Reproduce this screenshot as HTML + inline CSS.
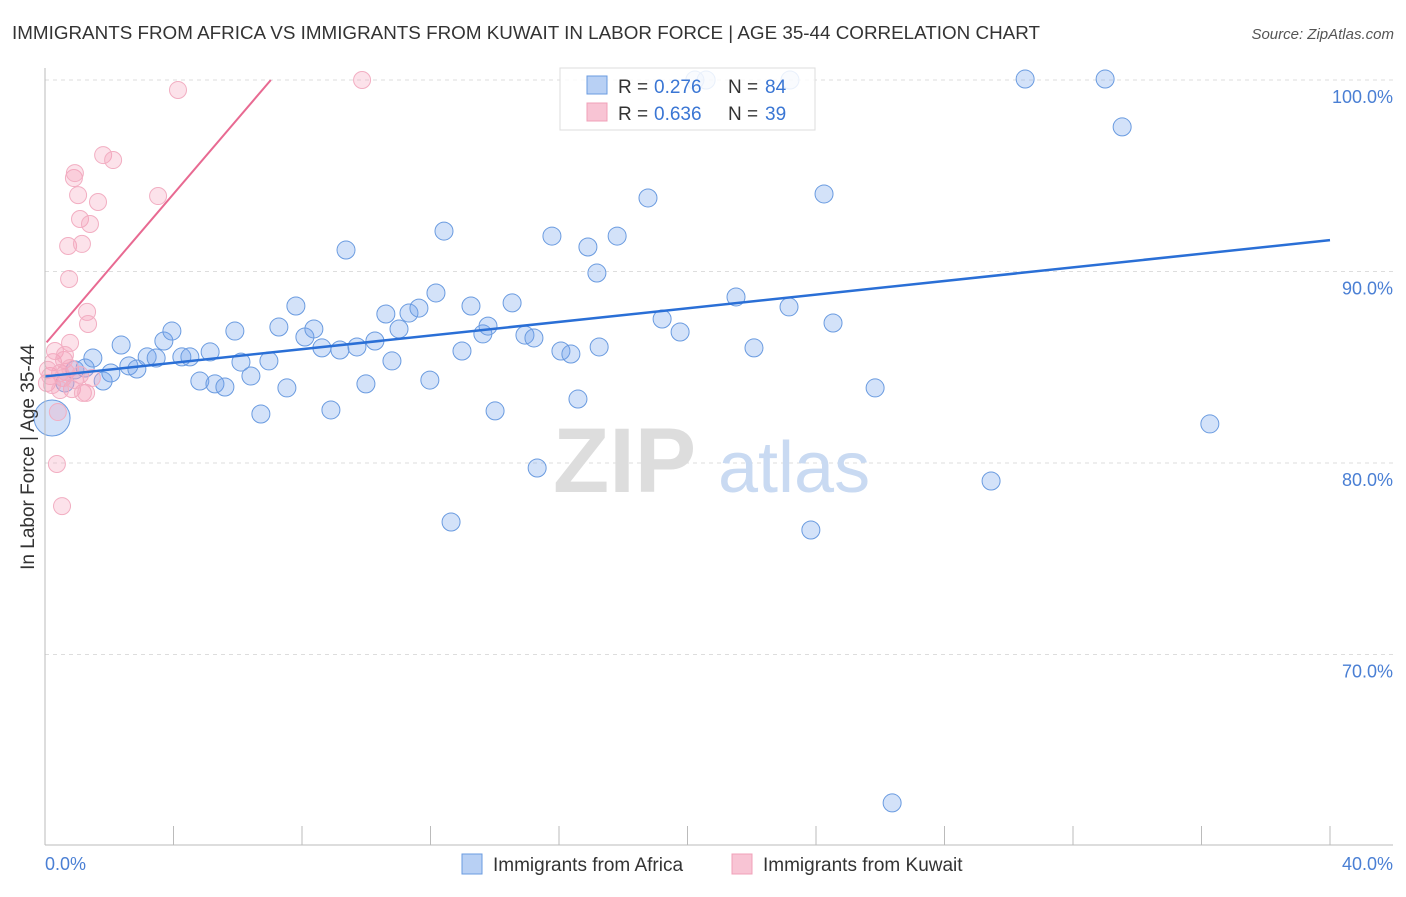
<!DOCTYPE html>
<html><head><meta charset="utf-8"><style>
body{margin:0;background:#fff;font-family:"Liberation Sans",sans-serif;}
svg text{font-family:"Liberation Sans",sans-serif;}
</style></head><body>
<svg id="chart" width="1406" height="892" xmlns="http://www.w3.org/2000/svg">
<text x="12" y="39" font-size="18" fill="#333" textLength="1028" lengthAdjust="spacingAndGlyphs">IMMIGRANTS FROM AFRICA VS IMMIGRANTS FROM KUWAIT IN LABOR FORCE | AGE 35-44 CORRELATION CHART</text>
<text x="1394" y="39" font-size="15" fill="#555" text-anchor="end" font-style="italic">Source: ZipAtlas.com</text>
<g id="grid"></g>
<text x="553" y="492" font-size="92" fill="#ddd" font-family="Liberation Serif" font-weight="bold">ZIP</text>
<text x="718" y="492" font-size="72" fill="#c9daf2">atlas</text>
<g id="pts"></g>
<g id="lines"></g>
<line x1="45" y1="68" x2="45" y2="845" stroke="#bbb"/>
<line x1="45" y1="845" x2="1393" y2="845" stroke="#bbb"/>
<text transform="translate(34,457) rotate(-90)" font-size="19" fill="#333" text-anchor="middle">In Labor Force | Age 35-44</text>
<text x="45" y="870" font-size="18" fill="#4a7fd4">0.0%</text>
<text x="1393" y="870" font-size="18" fill="#4a7fd4" text-anchor="end">40.0%</text>
<g>
<rect x="560" y="68" width="255" height="62" fill="#fff" fill-opacity="0.85" stroke="#ddd"/>
<rect x="587" y="76" width="20" height="18" fill="#b8d0f4" stroke="#6a9be0"/>
<text x="618" y="93" font-size="19" fill="#333">R =</text>
<text x="654" y="93" font-size="19" fill="#3a76d4">0.276</text>
<text x="728" y="93" font-size="19" fill="#333">N =</text>
<text x="765" y="93" font-size="19" fill="#3a76d4">84</text>
<rect x="587" y="103" width="20" height="18" fill="#f8c4d4" stroke="#f0a0b8"/>
<text x="618" y="120" font-size="19" fill="#333">R =</text>
<text x="654" y="120" font-size="19" fill="#3a76d4">0.636</text>
<text x="728" y="120" font-size="19" fill="#333">N =</text>
<text x="765" y="120" font-size="19" fill="#3a76d4">39</text>
</g>
<g>
<rect x="462" y="854" width="20" height="20" fill="#b8d0f4" stroke="#6a9be0"/>
<text x="493" y="871" font-size="19" fill="#333">Immigrants from Africa</text>
<rect x="732" y="854" width="20" height="20" fill="#f8c4d4" stroke="#f0a0b8"/>
<text x="763" y="871" font-size="19" fill="#333">Immigrants from Kuwait</text>
</g>
</svg>
<script>
const yTicks=[100,90,80,70];
const yTickLabels=["100.0%","90.0%","80.0%","70.0%"];
const xTicks=[4,8,12,16,20,24,28,32,36,40];
const africaX=[.22,.62,.93,1.25,1.49,1.81,2.05,2.37,2.61,2.86,3.18,3.46,3.70,3.95,4.26,4.51,4.82,5.14,5.29,5.60,5.91,6.10,6.41,6.72,6.97,7.28,7.53,7.81,8.09,8.37,8.62,8.90,9.18,9.37,9.71,9.99,10.27,10.61,10.80,11.02,11.33,11.64,11.98,12.17,12.42,12.64,12.98,13.26,13.63,13.79,14.01,14.54,14.94,15.22,15.32,15.78,16.06,16.37,16.59,16.90,17.18,17.25,17.81,18.77,19.21,19.77,21.51,22.07,23.16,23.84,24.25,24.53,25.84,26.37,29.45,30.51,33.00,33.53,36.26,20.23,20.58,23.19];
const africaY=[82.35,84.18,84.86,84.96,85.48,84.28,84.70,86.16,85.07,84.91,85.54,85.48,86.37,86.89,85.54,85.54,84.28,85.80,84.13,83.97,86.89,85.27,84.54,82.56,85.33,87.10,83.92,88.20,86.58,87.00,86.01,82.77,85.90,91.12,86.06,84.13,86.37,87.78,85.33,87.00,87.83,88.09,84.33,88.88,92.11,76.92,85.85,88.20,86.74,87.15,82.72,88.36,86.68,86.53,79.74,91.85,85.85,85.69,83.34,91.28,89.92,86.06,91.85,93.84,87.52,86.84,88.67,86.01,88.15,76.50,94.05,87.31,83.92,62.25,79.06,100.05,100.05,97.55,82.04,100,100,100];
const kuwaitX=[.06,.16,.25,.31,.37,.47,.53,.59,.65,.72,.75,.78,.84,.90,.93,1.03,1.09,1.15,1.18,1.28,1.31,1.34,1.40,1.65,1.81,2.12,3.52,4.14,9.87,.40,.56,.09,.62,.78,.93,1.09,.22,.47,1.46];
const kuwaitY=[84.18,84.54,85.27,85.85,79.95,84.70,77.75,85.38,84.75,91.33,89.61,86.27,83.86,94.88,95.14,93.99,92.74,91.44,83.66,83.66,87.89,87.26,92.48,93.63,96.08,95.82,93.94,99.48,100,82.66,84.44,84.86,85.64,84.96,84.33,84.60,84.07,83.81,84.44];
const africaTrend=[84.52,0.178];
const kuwaitTrend=[86.2,1.963];
const NS="http://www.w3.org/2000/svg";
function sx(v){return 45+v*32.125;}
function sy(v){return 80+(100-v)*19.15;}
function mk(t,a,p){const e=document.createElementNS(NS,t);for(const k in a)e.setAttribute(k,a[k]);p.appendChild(e);return e;}
const grid=document.getElementById('grid');
yTicks.forEach((t,i)=>{
 const l=mk('line',{x1:45,x2:1393,y1:sy(t),y2:sy(t),stroke:'#ddd','stroke-dasharray':'4,4'},grid);
 
 
 const tx=mk('text',{x:1393,y:sy(t)+23,'font-size':18,fill:'#4a7fd4','text-anchor':'end'},grid);
 tx.textContent=yTickLabels[i];
 
 
});
xTicks.forEach(t=>{
 const l=mk('line',{x1:sx(t),x2:sx(t),y1:826,y2:845,stroke:'#bbb'},grid);
 
 
});
const pts=document.getElementById('pts');
africaX.forEach((x,i)=>{
 const r=i===0?18:9;
 const c=mk('circle',{cx:sx(x),cy:sy(africaY[i]),r:r,fill:'rgba(110,160,235,0.3)',stroke:'#6a9be0','stroke-width':1},pts);
 
 
});
kuwaitX.forEach((x,i)=>{
 const c=mk('circle',{cx:sx(x),cy:sy(kuwaitY[i]),r:8.5,fill:'rgba(245,160,185,0.3)',stroke:'#f2aec2','stroke-width':1},pts);
 
 
});
const lines=document.getElementById('lines');
const bl=mk('line',{x1:sx(0),y1:sy(africaTrend[0]),x2:sx(40),y2:sy(africaTrend[0]+40*africaTrend[1]),stroke:'#2a6fd6','stroke-width':2.5},lines);


const xe=(100-kuwaitTrend[0])/kuwaitTrend[1];
const pl=mk('line',{x1:sx(0.05),y1:sy(kuwaitTrend[0]+0.05*kuwaitTrend[1]),x2:sx(xe),y2:sy(100),stroke:'#e86a92','stroke-width':2},lines);


</script>
</body></html>
